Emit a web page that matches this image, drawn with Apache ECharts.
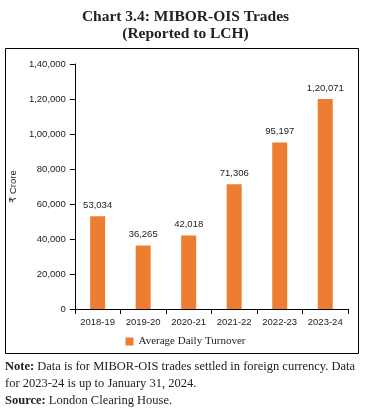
<!DOCTYPE html>
<html>
<head>
<meta charset="utf-8">
<script src="https://cdn.jsdelivr.net/npm/echarts@6/dist/echarts.min.js"></script>
<style>
html,body{margin:0;padding:0;background:#fff;}
#c{width:371px;height:415px;}
</style>
</head>
<body>
<div id="c"></div>
<script>
const categories = ['2018-19','2019-20','2020-21','2021-22','2022-23','2023-24'];
const turnover = [53034, 36265, 42018, 71306, 95197, 120071];
const seriesName = 'Average Daily Turnover';
const yTicks = [0, 20000, 40000, 60000, 80000, 100000, 120000, 140000];

function inFmt(n){
  const s = String(Math.round(n));
  if (s.length <= 3) return s;
  const last3 = s.slice(-3);
  let rest = s.slice(0, -3);
  const parts = [];
  while (rest.length > 2){ parts.unshift(rest.slice(-2)); rest = rest.slice(0,-2); }
  if (rest.length) parts.unshift(rest);
  return parts.join(',') + ',' + last3;
}

const chart = echarts.init(document.getElementById('c'));
const serif = '"Liberation Serif", "DejaVu Serif", serif';
const sans = '"Liberation Sans", "DejaVu Sans", sans-serif';
chart.setOption({
  animation: false,
  backgroundColor: '#fff',
  title: {
    text: 'Chart 3.4: MIBOR-OIS Trades\n(Reported to LCH)',
    left: 'center', top: 3,
    textStyle: { fontFamily: serif, fontWeight: 'bold', fontSize: 15.5, color: '#222', lineHeight: 17 }
  },
  grid: { left: 68, right: 23, top: 64, bottom: 106 },
  legend: {
    data: [seriesName], top: 331, left: 'center',
    icon: 'rect', itemWidth: 8, itemHeight: 8, itemGap: 4,
    textStyle: { fontFamily: serif, fontSize: 11, color: '#222' }
  },
  xAxis: {
    type: 'category', data: categories,
    axisLine: { lineStyle: { color: '#000', width: 1 } },
    axisTick: { show: true, length: 5, lineStyle: { color: '#000' } },
    axisLabel: { interval: 0, fontFamily: sans, fontSize: 9.5, color: '#222', margin: 8 }
  },
  yAxis: {
    type: 'value', min: yTicks[0], max: yTicks[yTicks.length-1], interval: yTicks[1]-yTicks[0],
    name: '₹ Crore', nameLocation: 'middle', nameGap: 45,
    nameTextStyle: { fontFamily: sans, fontSize: 9.5, color: '#222' },
    axisLine: { show: true, lineStyle: { color: '#000', width: 1 } },
    axisTick: { show: true, length: 5, lineStyle: { color: '#000' } },
    splitLine: { show: false },
    axisLabel: { fontFamily: sans, fontSize: 9.5, color: '#222', margin: 9, formatter: inFmt }
  },
  series: [{
    name: seriesName, type: 'bar', data: turnover, barWidth: 15,
    itemStyle: { color: '#ED7D31' },
    label: { show: true, position: 'top', distance: 6, fontFamily: sans, fontSize: 9.5, color: '#222', formatter: p => inFmt(p.value) }
  }],
  graphic: [
    { type: 'rect', shape: { x: 5.5, y: 48.5, width: 353, height: 305 }, style: { fill: 'none', stroke: '#000', lineWidth: 1 }, silent: true },
    { type: 'text', left: 5, top: 358, style: {
        text: '{b|Note:} Data is for MIBOR-OIS trades settled in foreign currency. Data\nfor 2023-24 is up to January 31, 2024.\n{b|Source:} London Clearing House.',
        fontFamily: serif, fontSize: 12.5, fill: '#222', lineHeight: 17,
        rich: { b: { fontFamily: serif, fontSize: 12.5, fontWeight: 'bold', fill: '#222' } }
    } }
  ]
});
</script>
</body>
</html>
